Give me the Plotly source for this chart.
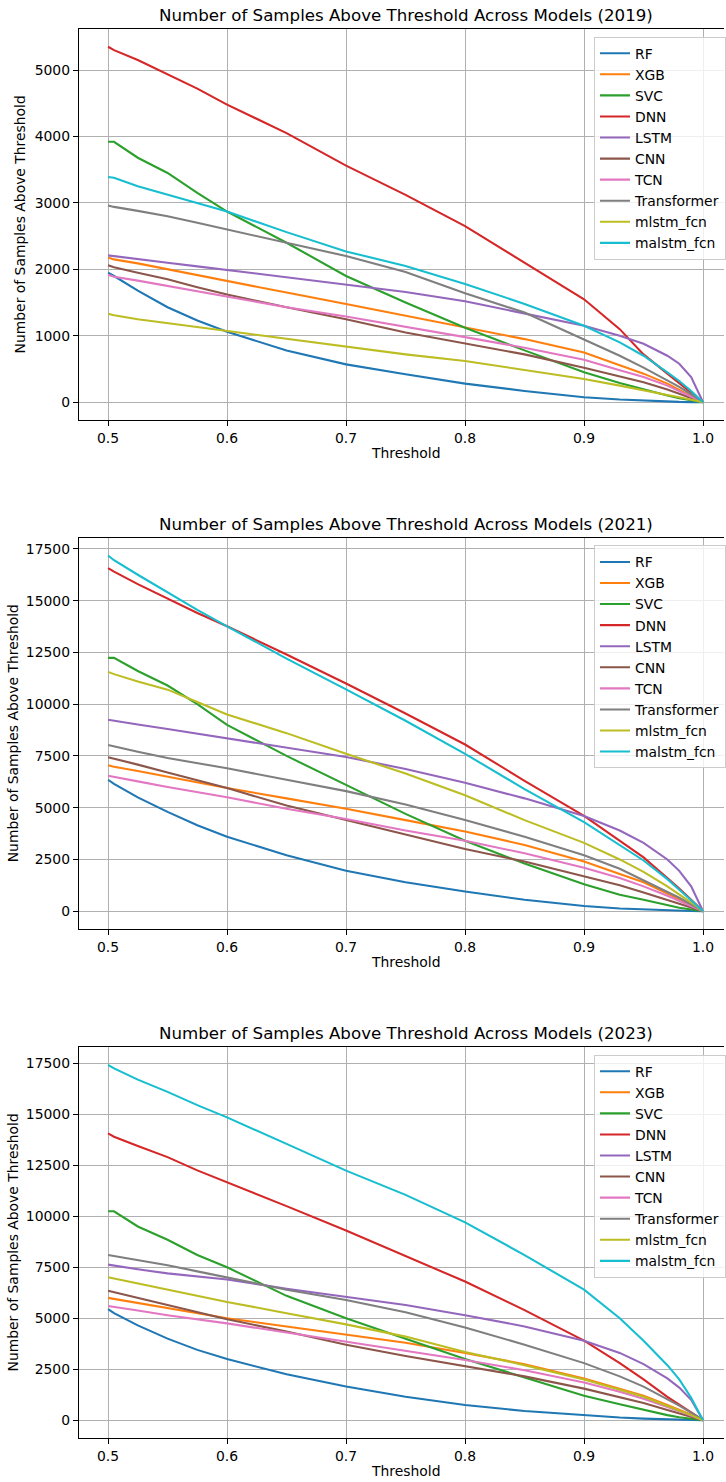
import plotly.graph_objects as go

W, H = 726, 1482

thresholds = [0.50, 0.505, 0.525, 0.55, 0.575, 0.60, 0.65, 0.70, 0.75, 0.80, 0.85, 0.90, 0.93, 0.95, 0.97, 0.98, 0.99, 1.00]

models = ["RF", "XGB", "SVC", "DNN", "LSTM", "CNN", "TCN", "Transformer", "mlstm_fcn", "malstm_fcn"]
colors = ["#1f77b4", "#ff7f0e", "#2ca02c", "#d62728", "#9467bd",
          "#8c564b", "#e377c2", "#7f7f7f", "#bcbd22", "#17becf"]

years = ["2019", "2021", "2023"]

rf_2019 = [1950, 1900, 1680, 1430, 1230, 1060, 780, 570, 420, 280, 170, 75, 40, 22, 10, 5, 2, 0]
xgb_2019 = [2180, 2150, 2090, 2000, 1910, 1830, 1650, 1480, 1300, 1120, 950, 750, 560, 430, 280, 190, 100, 0]
svc_2019 = [3920, 3920, 3680, 3450, 3150, 2870, 2400, 1900, 1500, 1120, 780, 450, 290, 190, 100, 60, 25, 0]
dnn_2019 = [5350, 5300, 5150, 4930, 4720, 4480, 4050, 3560, 3120, 2650, 2100, 1550, 1100, 720, 430, 290, 150, 0]
lstm_2019 = [2210, 2200, 2150, 2100, 2045, 1990, 1870, 1760, 1660, 1520, 1330, 1150, 1000, 880, 700, 580, 380, 0]
cnn_2019 = [2060, 2030, 1950, 1850, 1730, 1620, 1430, 1250, 1050, 880, 720, 520, 390, 300, 190, 130, 70, 0]
tcn_2019 = [1920, 1890, 1830, 1750, 1660, 1580, 1430, 1290, 1140, 980, 820, 640, 480, 380, 250, 170, 90, 0]
transformer_2019 = [2960, 2940, 2880, 2800, 2700, 2600, 2400, 2200, 1960, 1640, 1350, 950, 700, 520, 330, 230, 120, 0]
mlstm_2019 = [1330, 1310, 1250, 1190, 1130, 1070, 950, 840, 720, 620, 480, 350, 250, 185, 110, 75, 40, 0]
malstm_2019 = [3390, 3380, 3250, 3120, 2990, 2870, 2560, 2270, 2050, 1780, 1480, 1150, 900, 700, 450, 320, 170, 0]

rf_2021 = [6350, 6150, 5500, 4800, 4150, 3600, 2700, 1950, 1400, 950, 550, 250, 130, 80, 35, 20, 8, 0]
xgb_2021 = [7050, 6980, 6770, 6500, 6230, 5950, 5450, 4950, 4400, 3850, 3200, 2400, 1800, 1400, 850, 580, 300, 0]
svc_2021 = [12235, 12235, 11600, 10900, 10000, 9000, 7500, 6100, 4700, 3400, 2300, 1300, 800, 550, 280, 170, 80, 0]
dnn_2021 = [16570, 16400, 15800, 15100, 14400, 13760, 12400, 11000, 9550, 8050, 6300, 4600, 3400, 2600, 1600, 1100, 550, 0]
lstm_2021 = [9250, 9200, 9020, 8800, 8580, 8350, 7900, 7450, 6870, 6200, 5450, 4600, 3900, 3300, 2500, 1950, 1200, 0]
cnn_2021 = [7440, 7370, 7080, 6700, 6320, 5950, 5100, 4400, 3700, 3000, 2400, 1700, 1250, 900, 550, 370, 190, 0]
tcn_2021 = [6540, 6480, 6270, 6000, 5750, 5500, 4950, 4450, 3900, 3400, 2800, 2100, 1600, 1200, 750, 500, 260, 0]
transformer_2021 = [8030, 7960, 7700, 7400, 7150, 6900, 6350, 5800, 5150, 4400, 3600, 2700, 2050, 1500, 950, 650, 330, 0]
mlstm_2021 = [11560, 11450, 11100, 10700, 10100, 9500, 8600, 7600, 6650, 5600, 4400, 3300, 2500, 1900, 1200, 820, 420, 0]
malstm_2021 = [17180, 16950, 16250, 15400, 14550, 13760, 12200, 10710, 9200, 7600, 5900, 4300, 3200, 2450, 1550, 1050, 530, 0]

rf_2023 = [5450, 5250, 4650, 4000, 3450, 3000, 2250, 1650, 1150, 750, 450, 230, 130, 80, 35, 20, 8, 0]
xgb_2023 = [6000, 5950, 5750, 5500, 5250, 5000, 4600, 4200, 3800, 3300, 2750, 2050, 1550, 1200, 750, 520, 270, 0]
svc_2023 = [10245, 10245, 9500, 8850, 8100, 7500, 6100, 5000, 4000, 3000, 2100, 1200, 780, 500, 250, 150, 70, 0]
dnn_2023 = [14070, 13900, 13450, 12900, 12250, 11670, 10500, 9300, 8050, 6800, 5400, 3900, 2800, 2000, 1150, 780, 400, 0]
lstm_2023 = [7630, 7580, 7400, 7200, 7050, 6900, 6450, 6050, 5650, 5150, 4600, 3900, 3300, 2750, 2050, 1600, 1000, 0]
cnn_2023 = [6350, 6280, 6000, 5650, 5300, 4950, 4350, 3700, 3150, 2650, 2150, 1550, 1150, 850, 500, 340, 170, 0]
tcn_2023 = [5600, 5550, 5380, 5150, 4950, 4750, 4300, 3850, 3400, 2950, 2450, 1850, 1400, 1050, 650, 450, 230, 0]
transformer_2023 = [8100, 8050, 7850, 7600, 7300, 7000, 6400, 5900, 5300, 4550, 3700, 2800, 2150, 1650, 1050, 720, 370, 0]
mlstm_2023 = [7010, 6950, 6700, 6400, 6100, 5800, 5250, 4700, 4100, 3350, 2700, 2000, 1500, 1150, 700, 480, 250, 0]
malstm_2023 = [17430, 17250, 16700, 16100, 15450, 14850, 13550, 12240, 11050, 9700, 8100, 6400, 5000, 3900, 2700, 2000, 1100, 0]

series_2019 = [rf_2019, xgb_2019, svc_2019, dnn_2019, lstm_2019, cnn_2019, tcn_2019, transformer_2019, mlstm_2019, malstm_2019]
series_2021 = [rf_2021, xgb_2021, svc_2021, dnn_2021, lstm_2021, cnn_2021, tcn_2021, transformer_2021, mlstm_2021, malstm_2021]
series_2023 = [rf_2023, xgb_2023, svc_2023, dnn_2023, lstm_2023, cnn_2023, tcn_2023, transformer_2023, mlstm_2023, malstm_2023]
all_series = [series_2019, series_2021, series_2023]

x_ticks = [0.5, 0.6, 0.7, 0.8, 0.9, 1.0]
x_ticktext = ["0.5", "0.6", "0.7", "0.8", "0.9", "1.0"]
y_ticks_list = [[0, 1000, 2000, 3000, 4000, 5000],
                [0, 2500, 5000, 7500, 10000, 12500, 15000, 17500],
                [0, 2500, 5000, 7500, 10000, 12500, 15000, 17500]]

FONT = "DejaVu Sans"
fig = go.Figure()

# pixel layout (top, bottom) of each axes
axes_px = [(29, 420), (537.7, 929), (1047, 1438)]
x_left_px = 79.0

for i, (year, series) in enumerate(zip(years, all_series)):
    xa = "x" if i == 0 else f"x{i+1}"
    ya = "y" if i == 0 else f"y{i+1}"
    lg = "legend" if i == 0 else f"legend{i+1}"
    for name, col, vals in zip(models, colors, series):
        fig.add_trace(go.Scatter(
            x=thresholds, y=vals, mode="lines", name=name,
            line=dict(color=col, width=2.08),
            xaxis=xa, yaxis=ya, legend=lg, showlegend=True,
        ))

layout = dict(
    width=W, height=H,
    margin=dict(l=0, r=0, t=0, b=0, pad=0),
    paper_bgcolor="white", plot_bgcolor="white",
    font=dict(family=FONT, size=13.9, color="black"),
    showlegend=True,
)

annotations = []
for i, year in enumerate(years):
    top, bot = axes_px[i]
    sfx = "" if i == 0 else str(i + 1)
    ymax = max(max(s) for s in all_series[i])
    pad = 0.05 * ymax
    layout["xaxis" + sfx] = dict(
        domain=[x_left_px / W, 1.0],
        range=[0.4754, 1.0176],
        anchor="y" + sfx,
        tickvals=x_ticks, ticktext=x_ticktext,
        ticks="outside", ticklen=4.9, tickwidth=1.1, tickcolor="black",
        showline=True, linecolor="black", linewidth=1.1, mirror=True,
        showgrid=True, gridcolor="#b0b0b0", gridwidth=1.1,
        zeroline=False, automargin=False,
        tickfont=dict(family=FONT, size=13.9, color="black"),
    )
    layout["yaxis" + sfx] = dict(
        domain=[1 - bot / H, 1 - top / H],
        range=[-pad, ymax + pad],
        anchor="x" + sfx,
        tickvals=y_ticks_list[i], tickformat="d",
        ticks="outside", ticklen=4.9, tickwidth=1.1, tickcolor="black",
        showline=True, linecolor="black", linewidth=1.1, mirror=False,
        showgrid=True, gridcolor="#b0b0b0", gridwidth=1.1,
        zeroline=False, automargin=False,
        tickfont=dict(family=FONT, size=13.9, color="black"),
    )
    layout["legend" + ("" if i == 0 else str(i + 1))] = dict(
        x=728 / W, xanchor="right",
        y=1 - (top + 7.7) / H, yanchor="top",
        bgcolor="rgba(255,255,255,0.8)", bordercolor="#cccccc", borderwidth=1,
        font=dict(family=FONT, size=13.9, color="black"),
        traceorder="normal",
    )
    cx = (79 + 735) / 2 / W
    annotations.append(dict(
        text=f"Number of Samples Above Threshold Across Models ({year})",
        x=cx, y=1 - (top - 13.5) / H, xref="paper", yref="paper",
        xanchor="center", yanchor="middle", showarrow=False,
        font=dict(family=FONT, size=16.67, color="black"),
    ))
    annotations.append(dict(
        text="Threshold",
        x=cx, y=1 - (bot + 32.7) / H, xref="paper", yref="paper",
        xanchor="center", yanchor="middle", showarrow=False,
        font=dict(family=FONT, size=13.9, color="black"),
    ))
    ylab_x = 21 if i == 0 else 13
    annotations.append(dict(
        text="Number of Samples Above Threshold",
        x=ylab_x / W, y=1 - (top + bot) / 2 / H, xref="paper", yref="paper",
        xanchor="center", yanchor="middle", showarrow=False, textangle=-90,
        font=dict(family=FONT, size=13.9, color="black"),
    ))

layout["annotations"] = annotations
fig.update_layout(**layout)
fig.write_html("out.html")
